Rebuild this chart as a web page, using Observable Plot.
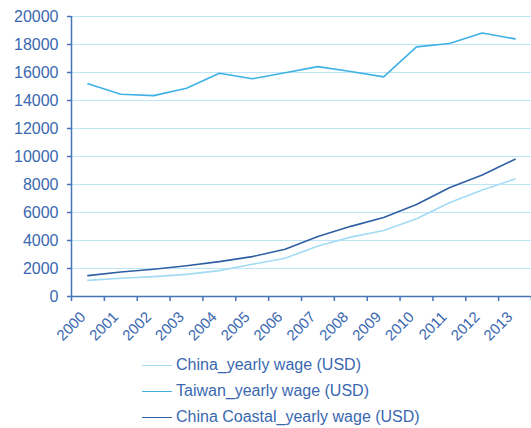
<!DOCTYPE html>
<html>
<head>
<meta charset="utf-8">
<script src="https://cdn.jsdelivr.net/npm/d3@7"></script>
<script src="https://cdn.jsdelivr.net/npm/@observablehq/plot@0.6"></script>
<style>
  html, body { margin: 0; padding: 0; background: #fff; }
  #chart { width: 531px; font-family: "Liberation Sans", Arial, sans-serif; }
  .legend { padding-top: 2px; margin-left: 142px; }
  .legend .row { height: 26px; display: flex; align-items: center; font-size: 16px; color: #3a68b0; }
  .legend .sw { width: 30px; height: 0; border-top-width: 1.5px; border-top-style: solid; margin-right: 4px; }
</style>
</head>
<body>
<div id="chart"></div>
<script>
const years = [2000, 2001, 2002, 2003, 2004, 2005, 2006, 2007, 2008, 2009, 2010, 2011, 2012, 2013];
const china = [1150, 1300, 1420, 1580, 1850, 2300, 2730, 3600, 4240, 4720, 5560, 6690, 7600, 8390];
const taiwan = [15200, 14450, 14350, 14880, 15950, 15550, 15980, 16420, 16070, 15690, 17830, 18070, 18820, 18400];
const coastal = [1490, 1750, 1950, 2200, 2490, 2850, 3380, 4290, 5010, 5640, 6570, 7770, 8680, 9810];
const seriesNames = ["China_yearly wage (USD)", "Taiwan_yearly wage (USD)", "China Coastal_yearly wage (USD)"];
const seriesColors = ["#a3dbf4", "#3fb1e5", "#2f5fa3"];
const yTicks = [0, 2000, 4000, 6000, 8000, 10000, 12000, 14000, 16000, 18000, 20000];

const seriesValues = [china, taiwan, coastal];
const rows = [];
seriesNames.forEach((name, si) => {
  years.forEach((yr, i) => rows.push({series: name, year: yr, value: seriesValues[si][i]}));
});
const boundaries = years.map(y => y - 0.5).concat([years[years.length - 1] + 0.5]);

const axisColor = "#4674b8";
const textColor = "#3a68b0";

const chart = Plot.plot({
  width: 531,
  height: 350,
  marginLeft: 71,
  marginRight: 0,
  marginTop: 16,
  marginBottom: 54,
  style: {fontFamily: "'Liberation Sans', Arial, sans-serif", fontSize: "16px", color: textColor, background: "#fff"},
  x: {type: "linear", domain: [boundaries[0], boundaries[boundaries.length - 1]], axis: null},
  y: {domain: [yTicks[0], yTicks[yTicks.length - 1]], axis: null},
  color: {domain: seriesNames, range: seriesColors},
  marks: [
    Plot.gridY(yTicks, {stroke: "#bfe6f7", strokeOpacity: 1, strokeWidth: 1.2}),
    Plot.line(rows.filter(d => d.series === seriesNames[1]), {x: "year", y: "value", stroke: "series", strokeWidth: 1.6}),
    Plot.line(rows.filter(d => d.series === seriesNames[0]), {x: "year", y: "value", stroke: "series", strokeWidth: 1.6}),
    Plot.line(rows.filter(d => d.series === seriesNames[2]), {x: "year", y: "value", stroke: "series", strokeWidth: 1.6}),
    Plot.ruleY([yTicks[0]], {stroke: axisColor, strokeWidth: 1.5}),
    Plot.ruleX([boundaries[0]], {stroke: axisColor, strokeWidth: 1.5}),
    Plot.axisY(yTicks, {label: null, tickSize: 4, tickPadding: 9, stroke: axisColor, fill: textColor, fontSize: 16, tickFormat: d => String(d), strokeWidth: 1.5}),
    Plot.axisX(boundaries, {label: null, tickSize: 5, tickFormat: () => "", stroke: axisColor, strokeWidth: 1.5}),
    Plot.axisX(years, {label: null, tickSize: 0, tickPadding: 12, tickRotate: -45, dx: -5, dy: 6, fill: textColor, fontSize: 15, tickFormat: d => String(d)})
  ]
});
document.getElementById("chart").appendChild(chart);

const legend = document.createElement("div");
legend.className = "legend";
seriesNames.forEach((name, i) => {
  const row = document.createElement("div");
  row.className = "row";
  const sw = document.createElement("span");
  sw.className = "sw";
  sw.style.borderTopColor = seriesColors[i];
  const t = document.createElement("span");
  t.textContent = name;
  row.appendChild(sw);
  row.appendChild(t);
  legend.appendChild(row);
});
document.getElementById("chart").appendChild(legend);
</script>
</body>
</html>
